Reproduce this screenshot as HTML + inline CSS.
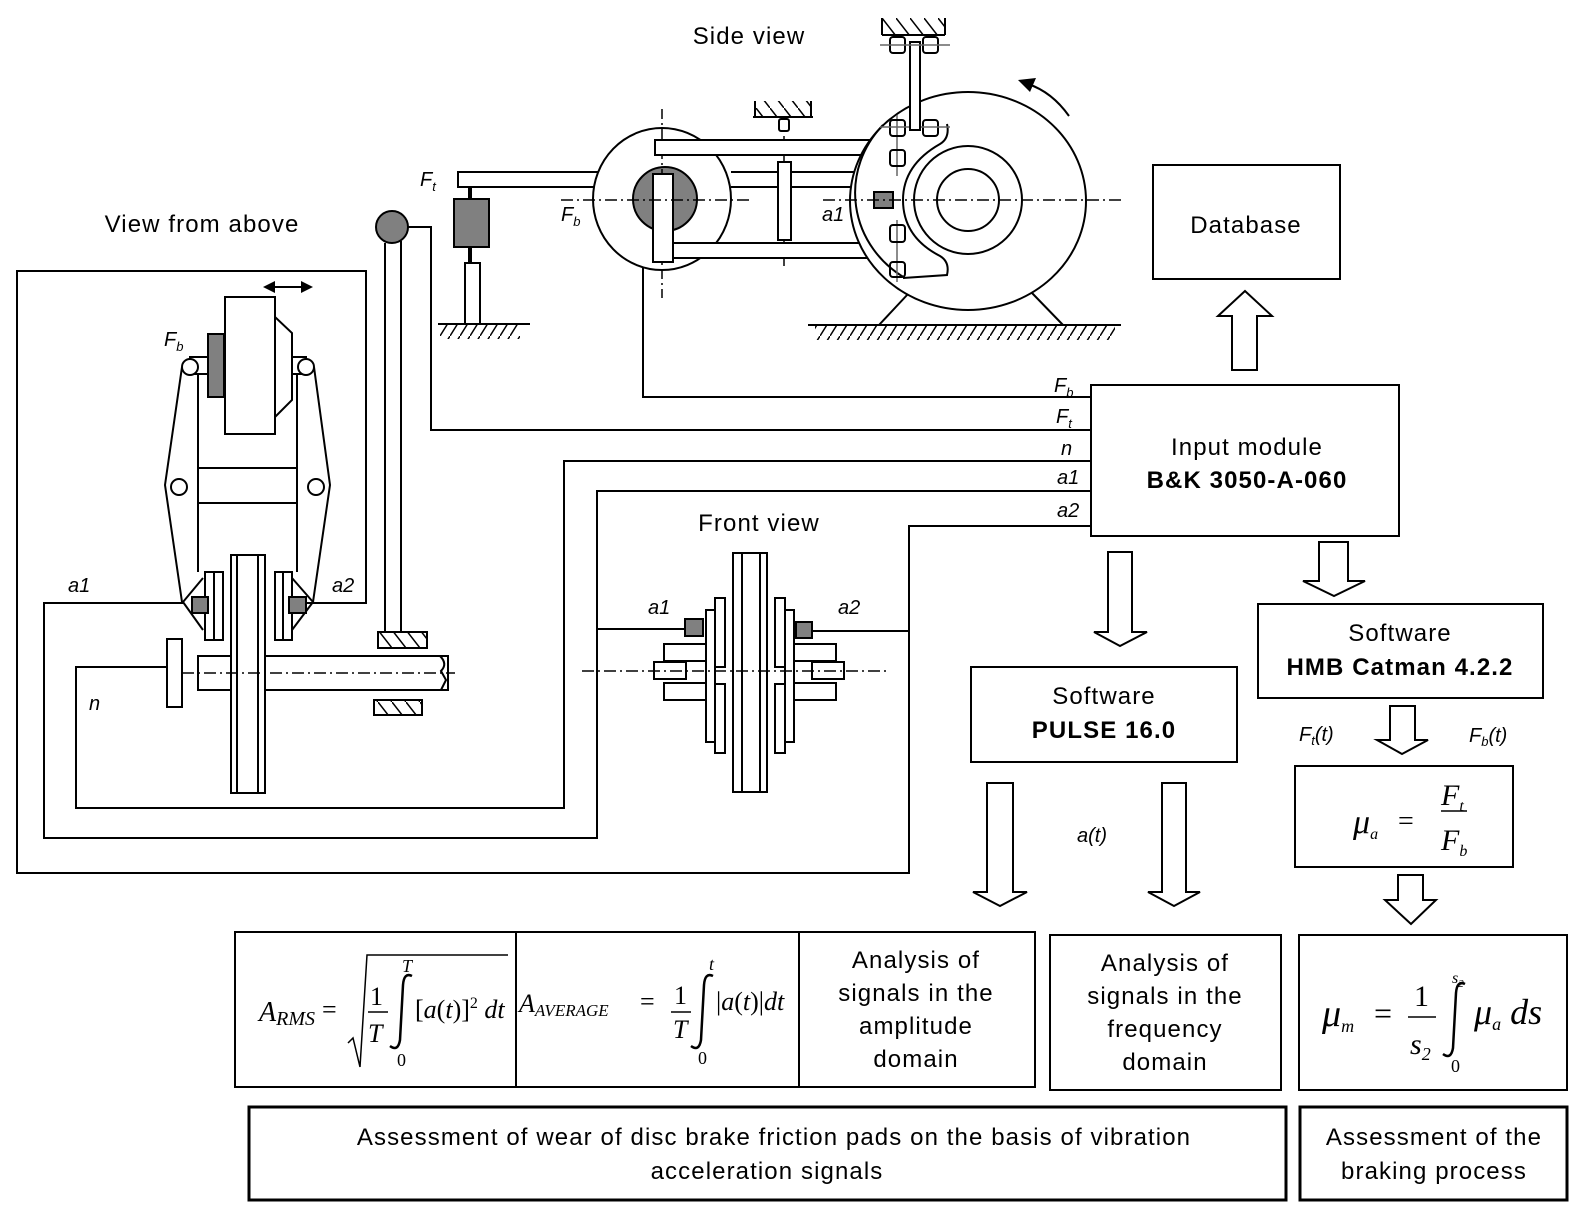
<!DOCTYPE html>
<html><head><meta charset="utf-8"><style>
html,body{margin:0;padding:0;background:#fff;}
svg{display:block;}
text{font-family:"Liberation Sans",sans-serif;fill:#000;}
.t{letter-spacing:1.1px;}
.s{font-family:"Liberation Serif",serif;font-style:italic;}
.r{font-family:"Liberation Serif",serif;}
.i{font-style:italic;}
</style></head><body>
<svg width="1582" height="1218" viewBox="0 0 1582 1218" xmlns="http://www.w3.org/2000/svg">
<defs>
<pattern id="h" width="10" height="16" patternUnits="userSpaceOnUse"><path d="M10 0 L0 16" stroke="#000" stroke-width="1.5"/></pattern>
<pattern id="h2" width="14" height="18" patternUnits="userSpaceOnUse"><path d="M0 0 L14 18" stroke="#000" stroke-width="1.5"/></pattern>
</defs>
<g fill="none" stroke="#000" stroke-width="2">

<polyline points="643,228 643,397 1091,397"/>
<polyline points="408,227 431,227 431,430 1091,430"/>
<polyline points="1091,461 564,461 564,808 76,808 76,667 167,667"/>
<polyline points="1091,491 597,491 597,838 44,838 44,603 183,603"/>
<line x1="597" y1="629" x2="685" y2="629"/>
<polyline points="1091,526 909,526 909,873 17,873 17,271 366,271 366,603 306,603"/>
<line x1="812" y1="631" x2="909" y2="631"/>

<circle cx="392" cy="227" r="16" fill="#808080"/>
<line x1="385" y1="243" x2="385" y2="632"/>
<line x1="401" y1="241" x2="401" y2="632"/>
<rect x="378" y="632" width="49" height="16" fill="url(#h2)"/>
<rect x="374" y="700" width="48" height="15" fill="url(#h2)"/>
<rect x="458" y="172" width="140" height="15" fill="#fff"/>
<line x1="470" y1="187" x2="470" y2="199" stroke-width="4"/>
<rect x="454" y="199" width="35" height="48" fill="#808080"/>
<line x1="470" y1="247" x2="470" y2="263" stroke-width="4"/>
<rect x="465" y="263" width="15" height="61" fill="#fff"/>
<line x1="438" y1="324" x2="530" y2="324"/>
<rect x="440" y="325" width="80" height="14" fill="url(#h)" stroke="none"/>

<ellipse cx="662" cy="199" rx="69" ry="71" fill="#fff"/>
<circle cx="665" cy="199" r="32" fill="#808080"/>
<line x1="731" y1="172" x2="860" y2="172"/>
<line x1="731" y1="187" x2="860" y2="187"/>
<line x1="662" y1="109" x2="662" y2="298" stroke-width="1.5" stroke-dasharray="10,4,2,4"/>
<line x1="784" y1="116" x2="784" y2="268" stroke-width="1.5" stroke-dasharray="10,4,2,4"/>
<rect x="655" y="140" width="259" height="15" fill="#fff"/>
<rect x="655" y="243" width="258" height="15" fill="#fff"/>
<rect x="653" y="174" width="20" height="88" fill="#fff"/>
<rect x="778" y="162" width="13" height="78" fill="#fff"/>
<line x1="753" y1="117" x2="813" y2="117"/>
<rect x="755" y="101" width="56" height="16" fill="url(#h2)" stroke="none"/>
<line x1="755" y1="101" x2="755" y2="117"/><line x1="811" y1="101" x2="811" y2="117"/>
<rect x="779" y="119" width="10" height="12" rx="2" fill="#fff"/>

<ellipse cx="968" cy="201" rx="118" ry="109" fill="#fff"/>
<path d="M883,125 A105,100 0 0 0 905,278"/>
<path d="M947,124 Q950,138 940,144 Q903,165 903,200 Q903,237 940,256 Q950,262 947,275 L903,278"/>
<circle cx="968" cy="200" r="54"/>
<circle cx="968" cy="200" r="31"/>
<rect x="874" y="192" width="19" height="16" fill="#808080"/>
<line x1="897" y1="115" x2="897" y2="176" stroke="#666" stroke-width="1.5"/>
<line x1="897" y1="220" x2="897" y2="282" stroke="#666" stroke-width="1.5"/>
<rect x="890" y="150" width="15" height="16" rx="3"/>
<rect x="890" y="225" width="15" height="17" rx="3"/>
<rect x="890" y="262" width="15" height="15" rx="3"/>
<rect x="890" y="120" width="15" height="16" rx="3"/>
<rect x="923" y="120" width="15" height="16" rx="3"/>
<line x1="880" y1="127" x2="950" y2="127" stroke="#666" stroke-width="1.5"/>
<rect x="910" y="42" width="10" height="88" fill="#fff"/>
<rect x="890" y="37" width="15" height="16" rx="3"/>
<rect x="923" y="37" width="15" height="16" rx="3"/>
<line x1="880" y1="45" x2="950" y2="45" stroke="#666" stroke-width="1.5"/>
<line x1="882" y1="35" x2="945" y2="35"/>
<rect x="882" y="18" width="63" height="17" fill="url(#h2)" stroke="none"/>
<line x1="882" y1="18" x2="882" y2="35"/><line x1="945" y1="18" x2="945" y2="35"/>
<line x1="561" y1="200" x2="753" y2="200" stroke-width="1.5" stroke-dasharray="12,4,2,4"/>
<line x1="823" y1="200" x2="1122" y2="200" stroke-width="1.5" stroke-dasharray="12,4,2,4"/>
<line x1="908" y1="294" x2="879" y2="325"/>
<line x1="1032" y1="293" x2="1063" y2="325"/>
<line x1="808" y1="325" x2="1121" y2="325"/>
<rect x="815" y="326" width="300" height="14" fill="url(#h)" stroke="none"/>
<path d="M1069,116 Q1052,92 1028,84"/>
<polygon points="1018,80 1036,78 1030,92" fill="#000" stroke="none"/>

<line x1="268" y1="287" x2="308" y2="287"/>
<polygon points="263,287 275,281 275,293" fill="#000" stroke="none"/>
<polygon points="313,287 301,281 301,293" fill="#000" stroke="none"/>
<rect x="225" y="297" width="50" height="137" fill="#fff"/>
<polyline points="275,317 292,333 292,400 275,417"/>
<rect x="208" y="334" width="16" height="63" fill="#808080"/>
<rect x="190" y="357" width="18" height="17" fill="#fff"/>
<rect x="292" y="357" width="14" height="17" fill="#fff"/>
<circle cx="190" cy="367" r="8" fill="#fff"/>
<circle cx="306" cy="367" r="8" fill="#fff"/>
<line x1="198" y1="374" x2="198" y2="572"/>
<line x1="297" y1="374" x2="297" y2="572"/>
<line x1="198" y1="468" x2="297" y2="468"/>
<line x1="198" y1="503" x2="297" y2="503"/>
<polyline points="182,367 165,485 182,602"/>
<polyline points="314,367 330,485 313,602"/>
<circle cx="179" cy="487" r="8"/>
<circle cx="316" cy="487" r="8"/>
<rect x="205" y="572" width="18" height="68" fill="#fff"/>
<line x1="214" y1="572" x2="214" y2="640"/>
<rect x="275" y="572" width="17" height="68" fill="#fff"/>
<line x1="283" y1="572" x2="283" y2="640"/>
<polyline points="203,578 183,602 203,630"/>
<polyline points="292,578 313,602 292,630"/>
<rect x="192" y="597" width="16" height="16" fill="#808080"/>
<rect x="289" y="597" width="17" height="16" fill="#808080"/>
<rect x="198" y="656" width="250" height="34" fill="#fff"/>
<path d="M440,656 Q448,664 441,671 L446,680 L441,690" fill="#fff"/>
<rect x="231" y="555" width="34" height="238" fill="#fff"/>
<line x1="237" y1="555" x2="237" y2="793"/>
<line x1="258" y1="555" x2="258" y2="793"/>
<rect x="167" y="639" width="15" height="68" fill="#fff"/>
<line x1="182" y1="673" x2="455" y2="673" stroke-width="1.5" stroke-dasharray="12,4,2,4"/>

<rect x="664" y="644" width="42" height="17" fill="#fff"/>
<rect x="664" y="683" width="42" height="17" fill="#fff"/>
<rect x="654" y="662" width="32" height="17" fill="#fff"/>
<rect x="794" y="644" width="42" height="17" fill="#fff"/>
<rect x="794" y="683" width="42" height="17" fill="#fff"/>
<rect x="812" y="662" width="32" height="17" fill="#fff"/>
<rect x="706" y="610" width="9" height="132" fill="#fff"/>
<rect x="715" y="598" width="10" height="69" fill="#fff"/>
<rect x="715" y="684" width="10" height="69" fill="#fff"/>
<rect x="785" y="610" width="9" height="132" fill="#fff"/>
<rect x="775" y="598" width="10" height="69" fill="#fff"/>
<rect x="775" y="684" width="10" height="69" fill="#fff"/>
<rect x="733" y="553" width="34" height="239" fill="#fff"/>
<line x1="742" y1="553" x2="742" y2="792"/>
<line x1="760" y1="553" x2="760" y2="792"/>
<rect x="685" y="619" width="18" height="17" fill="#808080"/>
<rect x="796" y="622" width="16" height="16" fill="#808080"/>
<line x1="582" y1="671" x2="890" y2="671" stroke-width="1.5" stroke-dasharray="12,4,2,4"/>

<rect x="1153" y="165" width="187" height="114"/>
<polygon points="1232,370 1232,316 1218,316 1245,291 1272,316 1257,316 1257,370"/>
<rect x="1091" y="385" width="308" height="151"/>
<polygon points="1108,552 1132,552 1132,632 1147,632 1120,646 1094,632 1108,632"/>
<polygon points="1319,542 1348,542 1348,581 1365,581 1334,596 1303,581 1319,581"/>
<rect x="971" y="667" width="266" height="95"/>
<rect x="1258" y="604" width="285" height="94"/>
<polygon points="987,783 1013,783 1013,892 1027,892 1000,906 973,892 987,892"/>
<polygon points="1162,783 1186,783 1186,892 1200,892 1174,906 1148,892 1162,892"/>
<polygon points="1390,706 1415,706 1415,740 1428,740 1402,754 1377,740 1390,740"/>
<rect x="1295" y="766" width="218" height="101"/>
<polygon points="1398,875 1423,875 1423,900 1436,900 1411,924 1385,900 1398,900"/>

<rect x="235" y="932" width="800" height="155"/>
<line x1="516" y1="932" x2="516" y2="1087"/>
<line x1="799" y1="932" x2="799" y2="1087"/>
<rect x="1050" y="935" width="231" height="155"/>
<rect x="1299" y="935" width="268" height="155"/>
<rect x="249" y="1107" width="1037" height="93" stroke-width="3"/>
<rect x="1300" y="1107" width="267" height="93" stroke-width="3"/>

<polyline points="348,1043 353,1038 360,1067 367,955 508,955" stroke-width="1.5"/>
<line x1="368" y1="1012" x2="388" y2="1012" stroke-width="1.5"/>
<line x1="671" y1="1012" x2="691" y2="1012" stroke-width="1.5"/>
<line x1="1408" y1="1017" x2="1436" y2="1017" stroke-width="1.5"/>
<line x1="1441" y1="811" x2="1467" y2="811" stroke-width="1.5"/>
<!-- integral signs -->
<path d="M412,976 Q404,972 403,985 L400,1040 Q398,1052 390,1046" stroke-width="2.5"/>
<path d="M713,976 Q705,972 704,985 L701,1040 Q699,1052 691,1046" stroke-width="2.5"/>
<path d="M1465,984 Q1457,980 1456,993 L1453,1048 Q1451,1060 1443,1054" stroke-width="2.5"/>
</g>

<text class="t" x="749" y="44" font-size="24" text-anchor="middle">Side view</text>
<text class="t" x="202" y="232" font-size="24" text-anchor="middle">View from above</text>
<text class="t" x="759" y="531" font-size="24" text-anchor="middle">Front view</text>
<g class="i" font-size="20">
<text x="420" y="186">F<tspan font-size="13" dy="5">t</tspan></text>
<text x="561" y="221">F<tspan font-size="13" dy="5">b</tspan></text>
<text x="822" y="221">a1</text>
<text x="164" y="346">F<tspan font-size="13" dy="5">b</tspan></text>
<text x="68" y="592">a1</text>
<text x="332" y="592">a2</text>
<text x="89" y="710">n</text>
<text x="648" y="614">a1</text>
<text x="838" y="614">a2</text>
<text x="1054" y="392">F<tspan font-size="13" dy="5">b</tspan></text>
<text x="1056" y="423">F<tspan font-size="13" dy="5">t</tspan></text>
<text x="1061" y="455">n</text>
<text x="1057" y="484">a1</text>
<text x="1057" y="517">a2</text>
<text x="1077" y="842">a(t)</text>
<text x="1299" y="741">F<tspan font-size="13" dy="4">t</tspan><tspan dy="-4">(t)</tspan></text>
<text x="1469" y="742">F<tspan font-size="13" dy="4">b</tspan><tspan dy="-4">(t)</tspan></text>
</g>
<g class="t">
<text x="1246" y="233" font-size="24" text-anchor="middle">Database</text>
<text x="1247" y="455" font-size="24" text-anchor="middle">Input module</text>
<text x="1247" y="488" font-size="24" font-weight="bold" text-anchor="middle">B&amp;K 3050-A-060</text>
<text x="1104" y="704" font-size="24" text-anchor="middle">Software</text>
<text x="1104" y="738" font-size="24" font-weight="bold" text-anchor="middle">PULSE 16.0</text>
<text x="1400" y="641" font-size="24" text-anchor="middle">Software</text>
<text x="1400" y="675" font-size="24" font-weight="bold" text-anchor="middle">HMB Catman  4.2.2</text>
</g>

<text class="s" x="1353" y="833" font-size="34">μ<tspan font-size="16" dy="6">a</tspan></text>
<text class="r" x="1398" y="830" font-size="28">=</text>
<text class="s" x="1441" y="805" font-size="30">F<tspan font-size="16" dy="6">t</tspan></text>
<text class="s" x="1441" y="850" font-size="30">F<tspan font-size="16" dy="6">b</tspan></text>

<text class="s" x="259" y="1021" font-size="28">A<tspan font-size="20" dy="4">RMS</tspan></text>
<text class="r" x="322" y="1018" font-size="26">=</text>
<text class="r" x="370" y="1005" font-size="26">1</text>
<text class="s" x="368" y="1042" font-size="26">T</text>
<text class="s" x="402" y="972" font-size="18">T</text>
<text class="r" x="397" y="1066" font-size="18">0</text>
<text class="r" x="415" y="1018" font-size="26">[<tspan class="s">a</tspan>(<tspan class="s">t</tspan>)]<tspan font-size="16" dy="-10">2</tspan><tspan class="s" dy="10"> dt</tspan></text>

<text class="s" x="519" y="1012" font-size="26">A<tspan font-size="17" dy="4">AVERAGE</tspan></text>
<text class="r" x="640" y="1010" font-size="26">=</text>
<text class="r" x="674" y="1004" font-size="26">1</text>
<text class="s" x="673" y="1038" font-size="26">T</text>
<text class="s" x="709" y="970" font-size="18">t</text>
<text class="r" x="698" y="1064" font-size="18">0</text>
<text class="r" x="716" y="1010" font-size="26">|<tspan class="s">a</tspan>(<tspan class="s">t</tspan>)|<tspan class="s">dt</tspan></text>

<g class="t" font-size="24" text-anchor="middle">
<text x="916" y="968">Analysis of</text>
<text x="916" y="1001">signals in the</text>
<text x="916" y="1034">amplitude</text>
<text x="916" y="1067">domain</text>
<text x="1165" y="971">Analysis of</text>
<text x="1165" y="1004">signals in the</text>
<text x="1165" y="1037">frequency</text>
<text x="1165" y="1070">domain</text>
<text x="774" y="1145">Assessment of wear of disc brake friction  pads on the basis of vibration</text>
<text x="767" y="1179">acceleration signals</text>
<text x="1434" y="1145">Assessment of the</text>
<text x="1434" y="1179">braking process</text>
</g>

<text class="s" x="1322" y="1026" font-size="38">μ<tspan font-size="18" dy="6">m</tspan></text>
<text class="r" x="1374" y="1024" font-size="32">=</text>
<text class="r" x="1414" y="1006" font-size="30">1</text>
<text class="s" x="1410" y="1054" font-size="30">s<tspan class="r" font-size="18" dy="6">2</tspan></text>
<text class="s" x="1452" y="983" font-size="16">s<tspan class="r" font-size="11" dy="4">2</tspan></text>
<text class="r" x="1451" y="1072" font-size="18">0</text>
<text class="s" x="1474" y="1024" font-size="36">μ<tspan font-size="18" dy="6">a</tspan><tspan dy="-6"> ds</tspan></text>
</svg>
</body></html>
